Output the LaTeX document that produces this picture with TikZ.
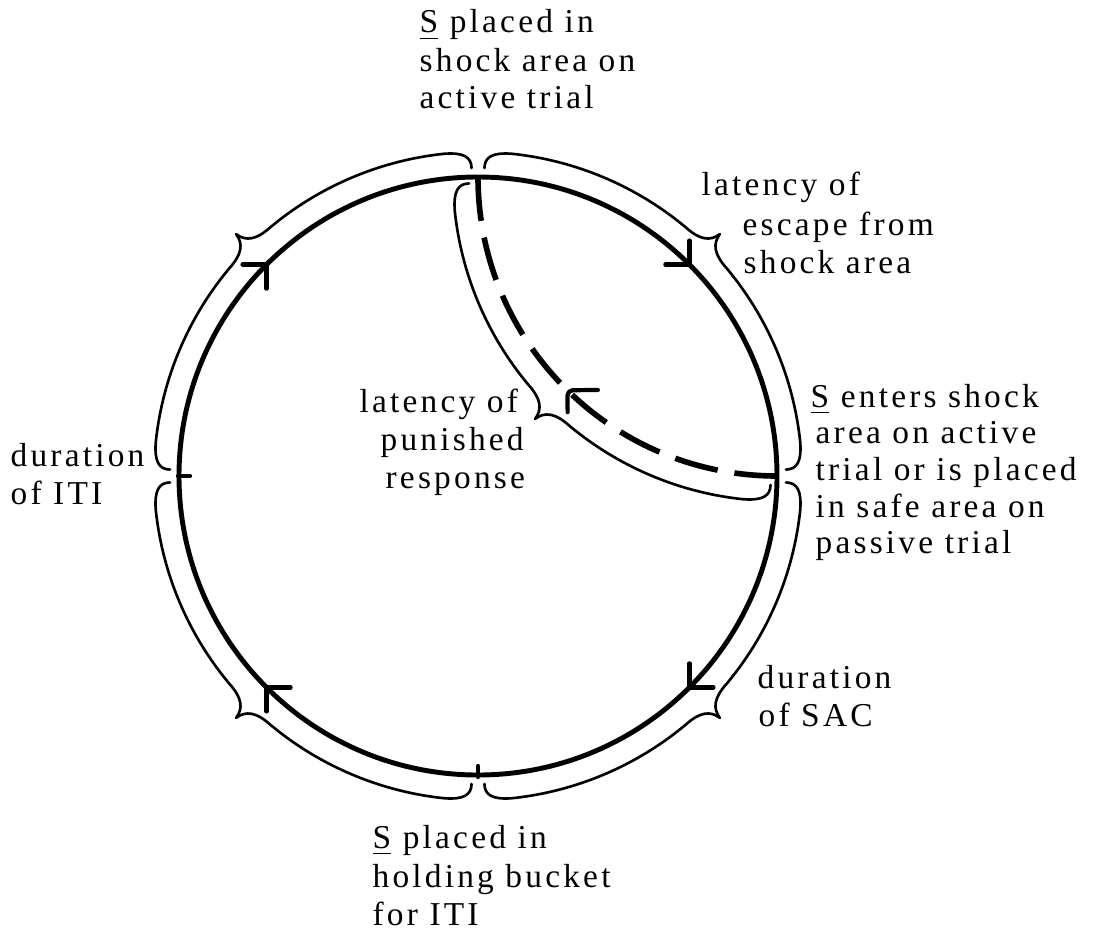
\documentclass[tikz,border=0pt]{standalone}
\usepackage{fontspec}
\setmainfont{Liberation Serif}[LetterSpace=9.6]
\usetikzlibrary{calc}

% curly brace that follows an arc of 90 degrees around a centre,
% ends curled towards the circle, tip pointing outward at mid-span
\newcommand{\arcbrace}[2]{%
  \begin{scope}[shift={(#1)}]
    \pgfmathsetmacro\ba{#2}
    \pgfmathsetmacro\bm{#2+45}
    \pgfmathsetmacro\bz{#2+90}
    \draw[bracket]
      ({\ba+1.2}:3.08) .. controls ({\ba+1.2}:3.19) and ({\ba+2.5}:3.24) .. ({\ba+6}:3.24)
      arc[start angle=\ba+6, end angle=\bm-5, radius=3.24]
      .. controls ({\bm-1.8}:3.24) and ({\bm-0.3}:3.30) .. (\bm:3.42)
      .. controls ({\bm+0.3}:3.30) and ({\bm+1.8}:3.24) .. ({\bm+5}:3.24)
      arc[start angle=\bm+5, end angle=\bz-6, radius=3.24]
      .. controls ({\bz-2.5}:3.24) and ({\bz-1.2}:3.19) .. ({\bz-1.2}:3.08);
  \end{scope}}

\begin{document}
\begin{tikzpicture}[
  ring/.style={line width=1.4pt},
  bracket/.style={line width=0.75pt, line cap=round, line join=round},
  barb/.style={line width=1.2pt, line cap=round, line join=round},
  jump/.style={line width=1.6pt, dash pattern=on 0.44cm off 0.17cm},
  lbl/.style={anchor=base west, inner sep=0pt, font=\fontsize{9.5}{11}\selectfont},
]
\useasboundingbox (-4.78,-4.56) rectangle (6.28,4.76);

% the trial cycle
\coordinate (O) at (0,0);
\coordinate (T) at (90:2.99);
\coordinate (R) at (0:2.99);
\coordinate (B) at (270:2.99);
\coordinate (L) at (180:2.99);
\coordinate (C) at (2.99,2.99);
\draw[ring] (O) circle[radius=2.99];

% clockwise direction marks
\foreach \t in {45,135,225,315}
  \draw[barb, shift={(\t:2.99)}, rotate=\t] (0.17,0.17) -- (0,0) -- (-0.17,0.17);

% event marks on the cycle
\draw[barb] ($(L)+(-0.01,0)$) -- ++(0.12,0);
\draw[barb] ($(B)+(0,-0.02)$) -- ++(0,0.11);

% shortcut from S entering the shock area back to the start
\draw[jump] (T) arc[start angle=180, end angle=270, radius=2.99];
\begin{scope}[shift={(C)}]
  \draw[barb, rounded corners=1.5pt, shift={(225.5:2.99)}, rotate=225.5]
    (0.155,0.155) -- (0,0) -- (-0.215,0.215);
\end{scope}

% interval braces
\arcbrace{O}{0}
\arcbrace{O}{90}
\arcbrace{O}{180}
\arcbrace{O}{270}
\arcbrace{C}{180}

% labels
\node[lbl] (a1) at (-0.59,4.43) {\underline{S} placed in};
\node[lbl] (a2) at (-0.59,4.04) {shock area on};
\node[lbl] (a3) at (-0.59,3.68) {active trial};

\node[lbl] (b1) at (2.23,2.81) {latency of};
\node[lbl] (b2) at (2.64,2.41) {escape from};
\node[lbl] (b3) at (2.65,2.03) {shock area};

\node[lbl] (c1) at (3.32,0.69) {\underline{S} enters shock};
\node[lbl] (c2) at (3.37,0.33) {area on active};
\node[lbl] (c3) at (3.37,-0.04) {trial or is placed};
\node[lbl] (c4) at (3.37,-0.41) {in safe area on};
\node[lbl] (c5) at (3.37,-0.77) {passive trial};

\node[lbl] (d1) at (2.79,-2.12) {duration};
\node[lbl] (d2) at (2.80,-2.50) {of SAC};

\node[lbl] (e1) at (-1.06,-3.72) {\underline{S} placed in};
\node[lbl] (e2) at (-1.06,-4.11) {holding bucket};
\node[lbl] (e3) at (-1.06,-4.49) {for ITI};

\node[lbl] (f1) at (-4.68,0.10) {duration};
\node[lbl] (f2) at (-4.68,-0.28) {of ITI};

\node[lbl] (g1) at (-1.19,0.64) {latency of};
\node[lbl] (g2) at (-0.98,0.26) {punished};
\node[lbl] (g3) at (-0.93,-0.12) {response};
\end{tikzpicture}
\end{document}
